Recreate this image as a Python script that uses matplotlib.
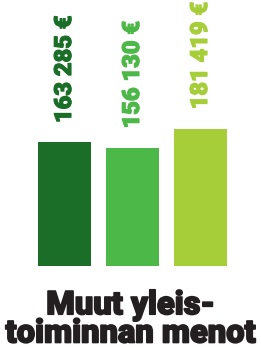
import matplotlib
matplotlib.use("Agg")
from matplotlib import pyplot as plt
import matplotlib.patheffects as pe

values = [163285, 156130, 181419]
labels = ["163 285 €", "156 130 €", "181 419 €"]
colors = ["#1a6e27", "#4cb848", "#a6ce39"]
title = "Muut yleis-\ntoiminnan menot"

fig = plt.figure(figsize=(2.61, 3.5), dpi=100)
ax = fig.add_axes([0, 84 / 350, 1, 266 / 350])

x = range(len(values))
ax.bar(x, values, width=53 / 68, color=colors)

for i, v in enumerate(values):
    ax.annotate(labels[i], (i, v), xytext=(0, 14), textcoords="offset points",
                rotation=90, ha="center", va="bottom", color=colors[i],
                fontsize=17, fontfamily="Roboto", fontweight="black",
                path_effects=[pe.withStroke(linewidth=0.8, foreground=colors[i])])

ax.set_xlim(-64.5 / 68, (261 - 64.5) / 68)
ax.set_ylim(0, 266 * 1322)
ax.axis("off")

fig.text(0.5, 0.5 / 350, title, ha="center", va="bottom", color="#231f20",
         fontsize=23.5, fontfamily="Roboto", fontweight="black", linespacing=0.85,
         path_effects=[pe.withStroke(linewidth=1.2, foreground="#231f20")])

fig.savefig("out.png", dpi=100)
